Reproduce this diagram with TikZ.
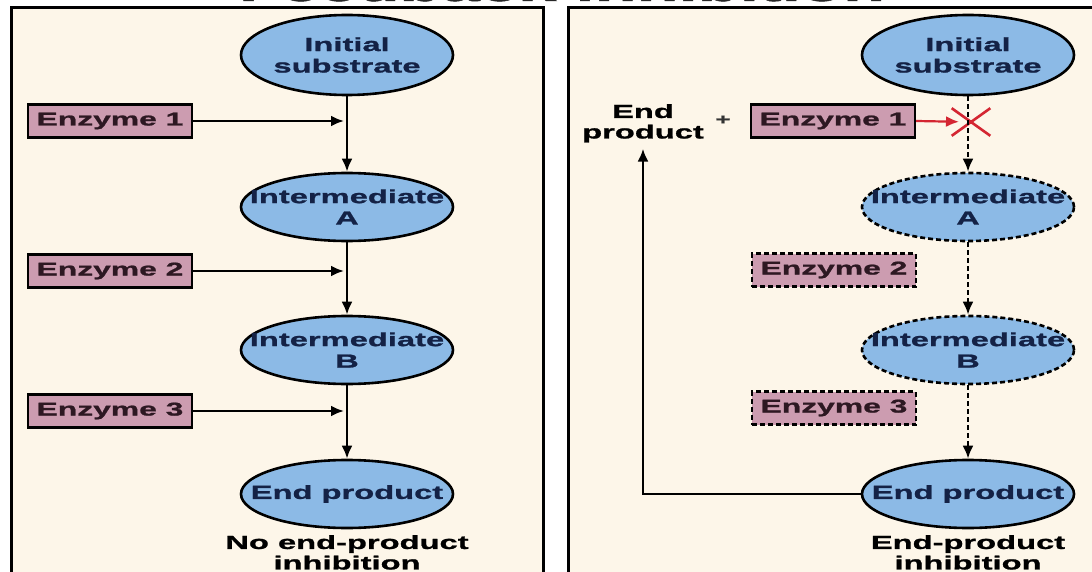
\documentclass[tikz,border=0pt]{standalone}
\usepackage{fontspec}
\setmainfont{Liberation Sans}[FakeStretch=1.72, BoldFeatures={FakeBold=1.2}]
\usetikzlibrary{shapes.geometric,shapes.misc,arrows.meta}

\newlength{\du}
\setlength{\du}{1pt}

\definecolor{panelcolor}{RGB}{253,246,233}
\definecolor{ovalcolor}{RGB}{140,186,230}
\definecolor{ovaltext}{RGB}{20,34,70}
\definecolor{enzcolor}{RGB}{204,156,176}
\definecolor{enztext}{RGB}{45,24,34}
\definecolor{blockcolor}{RGB}{212,38,50}

\tikzset{
  oval/.style={ellipse, draw=black, line width=2.6pt, fill=ovalcolor, text=ovaltext,
    minimum width=212pt, minimum height=68pt, inner xsep=-24pt, inner ysep=-4pt,
    align=center, font=\bfseries\fontsize{19}{21.5}\selectfont},
  enzbox/.style={rectangle, draw=black, line width=2.4pt, fill=enzcolor, text=enztext,
    minimum width=164pt, minimum height=33pt, inner sep=0pt,
    font=\bfseries\fontsize{18.5}{21.5}\selectfont},
  off/.style={dash pattern=on 5pt off 3pt},
  flow/.style={line width=2.8pt, -{Latex[length=13pt,width=11pt]}},
  caption/.style={anchor=north, inner sep=0pt, align=center, text=black,
    font=\bfseries\fontsize{19}{20.5}\selectfont},
  headline/.style={anchor=base, inner sep=0pt, text=black!85,
    font=\bfseries\fontsize{40}{44}\selectfont}
}

\begin{document}
\begin{tikzpicture}
\pgftransformxscale{1.000000}
\pgftransformyscale{-1.000000}
\useasboundingbox (0\du,0\du) rectangle (1092\du,572\du);
\fill[white] (0\du,0\du) rectangle (1092\du,572\du);
% title, cut off by the page edge
\node[headline] (head) at (562.000000\du,1.000000\du){Feedback inhibition};
% the two panels
\draw[line width=3pt, fill=panelcolor] (11.000000\du,8.000000\du) rectangle (543.000000\du,600.000000\du);
\draw[line width=3pt, fill=panelcolor] (568.000000\du,8.000000\du) rectangle (1100.000000\du,600.000000\du);

% left: no inhibition
\node[oval, minimum height=80pt] (subL) at (347.000000\du,55.000000\du){Initial\\substrate};
\node[oval] (intAL) at (347.000000\du,207.000000\du){Intermediate\\A};
\node[oval] (intBL) at (347.000000\du,350.000000\du){Intermediate\\B};
\node[oval] (endL) at (347.000000\du,494.000000\du){End product};
\node[enzbox] (enzL1) at (110.000000\du,121.000000\du){Enzyme 1};
\node[enzbox] (enzL2) at (110.000000\du,271.000000\du){Enzyme 2};
\node[enzbox] (enzL3) at (110.000000\du,411.000000\du){Enzyme 3};
\node[caption] (capL) at (347.000000\du,535.000000\du){No end-product\\inhibition};
\draw[flow] (subL) -- (intAL);
\draw[flow] (intAL) -- (intBL);
\draw[flow] (intBL) -- (endL);
\draw[flow, shorten >=3pt] (enzL1.east) -- (enzL1.east -| subL.south);
\draw[flow, shorten >=3pt] (enzL2.east) -- (enzL2.east -| subL.south);
\draw[flow, shorten >=3pt] (enzL3.east) -- (enzL3.east -| subL.south);

% right: end product blocks enzyme 1
\node[oval, minimum height=80pt] (subR) at (968.000000\du,55.000000\du){Initial\\substrate};
\node[oval, off] (intAR) at (968.000000\du,207.000000\du){Intermediate\\A};
\node[oval, off] (intBR) at (968.000000\du,350.000000\du){Intermediate\\B};
\node[oval] (endR) at (968.000000\du,494.000000\du){End product};
\node[enzbox] (enzR1) at (833.000000\du,121.000000\du){Enzyme 1};
\node[enzbox, off] (enzR2) at (834.000000\du,270.000000\du){Enzyme 2};
\node[enzbox, off] (enzR3) at (834.000000\du,408.000000\du){Enzyme 3};
\node[caption] (capR) at (968.000000\du,535.000000\du){End-product\\inhibition};
\node[caption] (fbR) at (643.000000\du,104.000000\du){End\\product};
\node[inner sep=0pt, text=black!80, font=\bfseries\fontsize{15}{16}\selectfont] (plus) at (723.000000\du,120.000000\du){+};
\node[cross out, draw=blockcolor, line width=2.6pt, minimum width=36pt, minimum height=25pt, inner sep=0pt] (block) at (971.000000\du,122.000000\du){};
\draw[flow, off] (subR) -- (intAR);
\draw[flow, off] (intAR) -- (intBR);
\draw[flow, off] (intBR) -- (endR);
\draw[flow, draw=blockcolor, line width=2.2pt, shorten >=12pt] (enzR1.east) -- (block.center);
\draw[flow, shorten >=6pt] (endR.west) -| (fbR.south);
\end{tikzpicture}
\end{document}
